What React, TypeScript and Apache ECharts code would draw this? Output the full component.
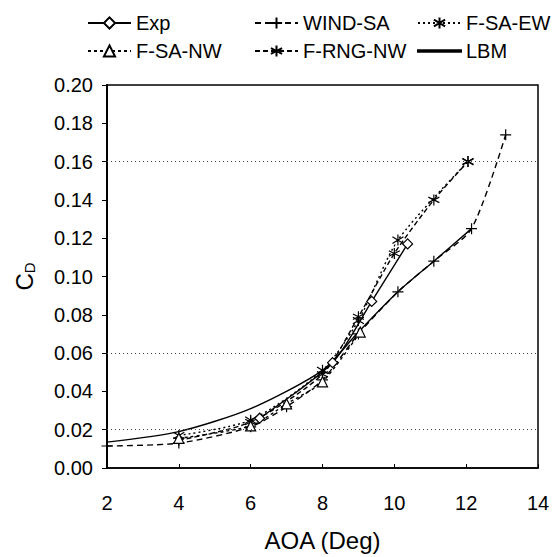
import React, { useEffect, useRef } from "react";
import * as echarts from "echarts";

// AOA (deg), C_D pairs
const expData = [[6.25, 0.026], [8.28, 0.055], [9.37, 0.087], [10.37, 0.117]];
const windSAData = [[2, 0.0115], [4, 0.013], [6, 0.0215], [7, 0.032], [8, 0.046], [9, 0.07], [10.1, 0.092], [11.1, 0.108], [12.15, 0.125], [13.1, 0.174]];
const fSaEwData = [[4, 0.017], [6, 0.025], [8, 0.051], [9, 0.077], [10.1, 0.119], [12.05, 0.16]];
const fSaNwData = [[4, 0.0155], [6, 0.022], [7, 0.0335], [8, 0.045], [9.05, 0.071]];
const fRngNwData = [[4, 0.0145], [6, 0.024], [8, 0.049], [9, 0.079], [10, 0.112], [11.1, 0.14], [12.05, 0.16]];
const lbmData = [[2, 0.0135], [4, 0.019], [6, 0.031], [8, 0.051], [9, 0.071], [10.1, 0.092], [11.1, 0.108], [12.15, 0.125]];
const refLines = [0.02, 0.06, 0.16];

const PLUS = "path://M0,5L10,5M5,0L5,10";
const STAR = "path://M5,0L5,10M0.7,2.5L9.3,7.5M0.7,7.5L9.3,2.5";
const XSTAR = "path://M1,2L9,8M1,8L9,2M5,0L5,10";
const LINE_ICON = "path://M0,0L40,0L40,1.4L0,1.4Z";

const FONT = "Liberation Sans, Arial, sans-serif";

export default function App() {
  const ref = useRef<HTMLDivElement>(null);
  useEffect(() => {
    const chart = echarts.init(ref.current!, null, { renderer: "svg" });
    const lineBase = (name: string, data: number[][], type: any, symbol: string, size: number, fill: string, z = 2) => ({
      name,
      type: "line",
      data,
      symbol,
      symbolSize: size,
      showSymbol: symbol !== "none",
      smooth: 0.25,
      z,
      lineStyle: { color: "#000", width: 1.4, type },
      itemStyle: { color: fill, borderColor: "#000", borderWidth: 1.2 },
      emphasis: { disabled: true },
    });
    const legendCommon = {
      orient: "vertical",
      top: 8,
      itemWidth: 43,
      itemHeight: 14,
      itemGap: 8,
      textStyle: { fontFamily: FONT, fontSize: 20, color: "#000", lineHeight: 20 },
      selectedMode: false,
    };
    const lbm: any = lineBase("LBM", lbmData, "solid", "none", 0, "#000", 1);
    lbm.markLine = {
      silent: true,
      symbol: "none",
      label: { show: false },
      lineStyle: { color: "#444", width: 1, type: [1, 3] },
      data: refLines.map((v) => ({ yAxis: v })),
    };
    chart.setOption({
      animation: false,
      backgroundColor: "#fff",
      legend: [
        { ...legendCommon, left: 82, data: ["Exp", "F-SA-NW"] },
        { ...legendCommon, left: 249, data: ["WIND-SA", "F-RNG-NW"] },
        { ...legendCommon, left: 412, data: ["F-SA-EW", { name: "LBM", icon: LINE_ICON, itemStyle: { color: "#000" } }] },
      ],
      grid: { left: 107, right: 17, top: 85, bottom: 87, show: true, borderColor: "#000", borderWidth: 1.5, backgroundColor: "transparent" },
      xAxis: {
        type: "value",
        min: 2,
        max: 14,
        interval: 2,
        name: "AOA (Deg)",
        nameLocation: "middle",
        nameGap: 60,
        nameTextStyle: { fontFamily: FONT, fontSize: 24, color: "#000" },
        axisLine: { lineStyle: { color: "#000", width: 1.5 } },
        axisTick: { inside: true, length: 4, lineStyle: { color: "#000" } },
        axisLabel: { fontFamily: FONT, fontSize: 20, color: "#000", margin: 25 },
        splitLine: { show: false },
      },
      yAxis: {
        type: "value",
        min: 0,
        max: 0.2,
        interval: 0.02,
        name: "{c|C}{d|D}",
        nameLocation: "middle",
        nameGap: 70,
        nameRotate: 90,
        nameTextStyle: {
          fontFamily: FONT,
          color: "#000",
          rich: {
            c: { fontFamily: FONT, fontSize: 24, color: "#000" },
            d: { fontFamily: FONT, fontSize: 15, color: "#000", verticalAlign: "bottom", padding: [10, 0, 0, 0] },
          },
        },
        axisLine: { lineStyle: { color: "#000", width: 2 } },
        axisTick: { inside: false, length: 5, lineStyle: { color: "#000" } },
        axisLabel: { fontFamily: FONT, fontSize: 20, color: "#000", margin: 14, formatter: (v: number) => v.toFixed(2) },
        splitLine: { show: false },
      },
      series: [
        lineBase("Exp", expData, "solid", "diamond", 10, "#fff", 5),
        lineBase("WIND-SA", windSAData, [6, 4], PLUS, 11, "#000", 3),
        lineBase("F-SA-EW", fSaEwData, [2, 3], XSTAR, 11, "#000", 3),
        lineBase("F-SA-NW", fSaNwData, [3, 3], "triangle", 10, "#fff", 4),
        lineBase("F-RNG-NW", fRngNwData, [5, 3], STAR, 11, "#000", 3),
        lbm,
      ],
    });
    return () => chart.dispose();
  }, []);
  return <div ref={ref} style={{ position: "fixed", left: 0, top: 0, width: 555, height: 557, background: "#fff" }} />;
}
